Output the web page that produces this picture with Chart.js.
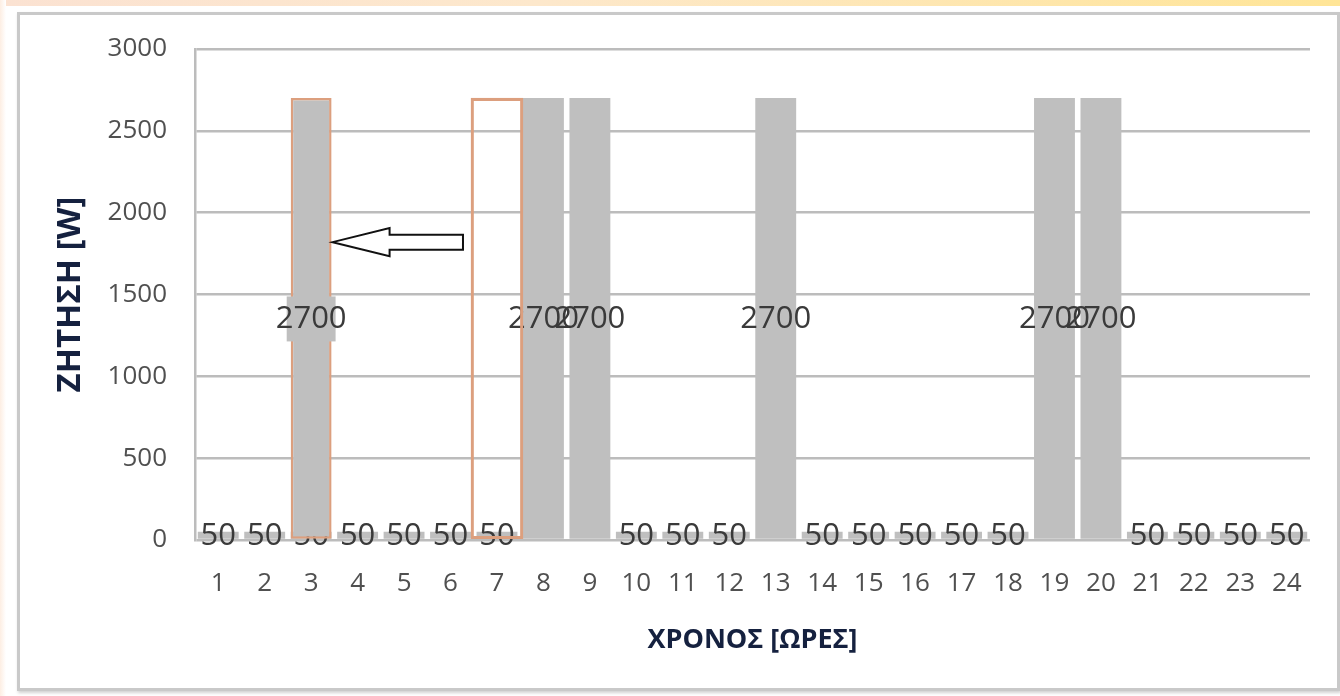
<!DOCTYPE html>
<html>
<head>
<meta charset="utf-8">
<script src="https://cdn.jsdelivr.net/npm/chart.js@4.4.0/dist/chart.umd.min.js"></script>
<style>
  html, body { margin: 0; padding: 0; width: 1340px; height: 696px; overflow: hidden; background: #fff; }
  #topStrip { position: absolute; left: 0; top: 0; width: 1340px; height: 6px;
    background: linear-gradient(90deg, #fbe2d2 0%, #fde8cc 40%, #ffe597 100%); }
  #leftStrip { position: absolute; left: 0; top: 0; width: 6px; height: 696px;
    background: linear-gradient(90deg, #fdeee3, #fff); }
  #frame { position: absolute; left: 17px; top: 12px; width: 1317px; height: 673px;
    border: 3px solid #c9c9c9; box-shadow: 1px 2px 3px rgba(0,0,0,0.18); background: #fff; }
</style>
</head>
<body>
<div id="topStrip"></div>
<div id="leftStrip"></div>
<div id="frame"><canvas id="chart"></canvas></div>
<script>
const hours = ['1','2','3','4','5','6','7','8','9','10','11','12','13','14','15','16','17','18','19','20','21','22','23','24'];
// demand per hour [W]
const demand = [50, 50, 50, 50, 50, 50, 50, 2700, 2700, 50, 50, 50, 2700, 50, 50, 50, 50, 50, 2700, 2700, 50, 50, 50, 50];
// load moved from hour 7 to hour 3
const shiftedTo = [null, null, 2700, null, null, null, null, null, null, null, null, null, null, null, null, null, null, null, null, null, null, null, null, null];
const shiftedFrom = [null, null, null, null, null, null, 2700, null, null, null, null, null, null, null, null, null, null, null, null, null, null, null, null, null];
const yTicks = [0, 500, 1000, 1500, 2000, 2500, 3000];
const arrowLevel = 1820;

const gray = '#bfbfbf';
const orange = '#dc9f7e';
const titleColor = '#15213f';

const barLabels = {
  id: 'barLabels',
  afterDatasetDraw(chart, args) {
    const ds = chart.data.datasets[args.index];
    if (!ds.showLabels) return;
    const ctx = chart.ctx;
    ctx.save();
    ctx.font = '31px "Open Sans"';
    ctx.textAlign = 'center';
    ctx.textBaseline = 'middle';
    args.meta.data.forEach((bar, i) => {
      const v = ds.data[i];
      if (v == null) return;
      const y = (bar.y + bar.base) / 2;
      if (ds.labelBg) {
        ctx.fillStyle = ds.labelBg;
        ctx.fillRect(bar.x - bar.width / 2 - 4, y - 22, bar.width + 8, 45);
      }
      ctx.fillStyle = '#3a3a3a';
      ctx.fillText(String(v), bar.x, y + 1);
    });
    ctx.restore();
  }
};

const moveArrow = {
  id: 'moveArrow',
  afterDatasetsDraw(chart) {
    const to = chart.getDatasetMeta(0).data[2];
    const from = chart.getDatasetMeta(1).data[6];
    const y = chart.scales.y.getPixelForValue(arrowLevel);
    const tip = to.x + to.width / 2 + 1;
    const tail = from.x - from.width / 2 - 8;
    const head = tip + 57;
    const ctx = chart.ctx;
    ctx.save();
    ctx.beginPath();
    ctx.moveTo(tip, y);
    ctx.lineTo(head, y - 14);
    ctx.lineTo(head, y - 7.5);
    ctx.lineTo(tail, y - 7.5);
    ctx.lineTo(tail, y + 7.5);
    ctx.lineTo(head, y + 7.5);
    ctx.lineTo(head, y + 14);
    ctx.closePath();
    ctx.fillStyle = '#fff';
    ctx.fill();
    ctx.lineWidth = 2;
    ctx.strokeStyle = '#111';
    ctx.stroke();
    ctx.restore();
  }
};

new Chart(document.getElementById('chart'), {
  type: 'bar',
  data: {
    labels: hours,
    datasets: [
      {
        data: shiftedTo,
        backgroundColor: gray,
        borderColor: orange,
        borderWidth: 2.5,
        borderSkipped: false,
        grouped: false,
        barPercentage: 0.88,
        categoryPercentage: 1,
        showLabels: true,
        labelBg: gray
      },
      {
        data: shiftedFrom,
        backgroundColor: 'rgba(0,0,0,0)',
        borderColor: orange,
        borderWidth: 2.5,
        borderSkipped: false,
        grouped: false,
        barThickness: 52,
        categoryPercentage: 1
      },
      {
        data: demand,
        backgroundColor: gray,
        borderWidth: 0,
        grouped: false,
        barPercentage: 0.88,
        categoryPercentage: 1,
        showLabels: true
      }
    ]
  },
  options: {
    responsive: true,
    maintainAspectRatio: false,
    animation: false,
    layout: { padding: { top: 34, right: 27, left: 0, bottom: 0 } },
    plugins: {
      legend: { display: false },
      tooltip: { enabled: false }
    },
    scales: {
      x: {
        grid: { display: false },
        border: { display: false },
        ticks: {
          color: '#505050',
          font: { family: 'Open Sans', size: 26 },
          padding: 20,
          maxRotation: 0,
          autoSkip: false
        },
        title: {
          display: true,
          text: 'ΧΡΟΝΟΣ [ΩΡΕΣ]',
          color: titleColor,
          font: { family: 'Open Sans', size: 27, weight: 'bold' },
          padding: { top: 0, bottom: 31 }
        },
        afterFit(scale) { scale.height = 148; }
      },
      y: {
        min: 0,
        max: 3000,
        afterBuildTicks(scale) { scale.ticks = yTicks.map(v => ({ value: v })); },
        grid: { color: '#bcbcbc', lineWidth: 2.5, drawTicks: false },
        border: { display: true, color: '#bcbcbc', width: 2.5 },
        ticks: {
          color: '#505050',
          font: { family: 'Open Sans', size: 26 },
          padding: 28,
          callback: v => String(v)
        },
        title: {
          display: true,
          text: 'ΖΗΤΗΣΗ [W]',
          color: titleColor,
          font: { family: 'Open Sans', size: 33, weight: 'bold' },
          padding: { top: 31, bottom: 0 }
        },
        afterFit(scale) {
          scale.width = 175;
          // tick padding would otherwise push the plot top down
          scale.paddingTop = 16;
          scale.paddingBottom = 16;
        }
      }
    }
  },
  plugins: [barLabels, moveArrow]
});
</script>
</body>
</html>
